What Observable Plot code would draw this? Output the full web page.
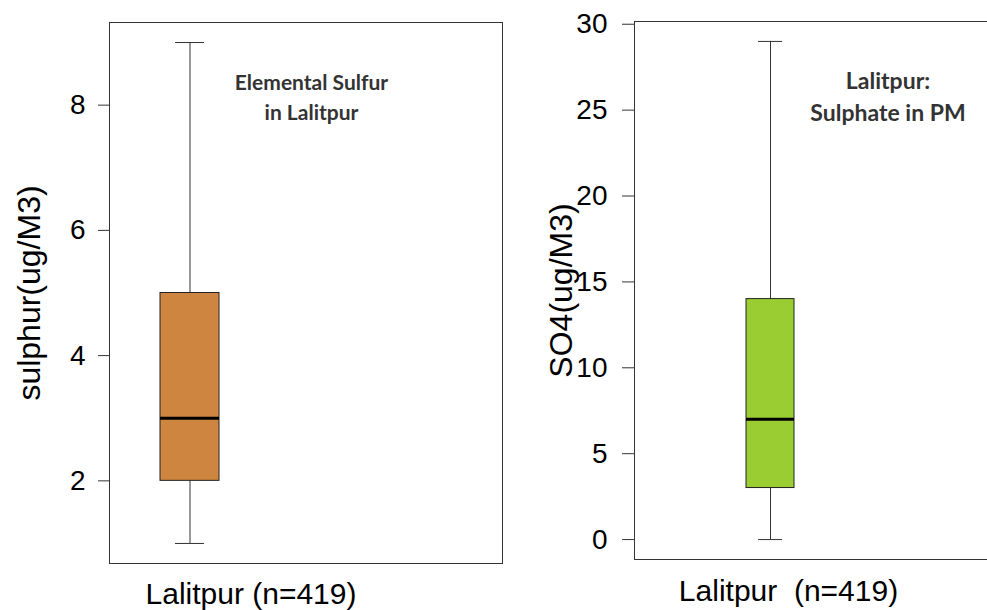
<!DOCTYPE html>
<html><head><meta charset="utf-8">
<script src="https://cdn.jsdelivr.net/npm/d3@7"></script>
<script src="https://cdn.jsdelivr.net/npm/@observablehq/plot@0.6"></script>
<style>
html,body{margin:0;padding:0;background:#fff;}
#chart{position:relative;width:987px;height:610px;overflow:hidden;background:#fff;}
#chart svg{position:absolute;top:0;}
</style></head><body><div id="chart"></div>
<script>
// Category labels (x axis of each panel)
const groups = ["Lalitpur (n=419)", "Lalitpur\u00a0 (n=419)"];
// Box-plot statistics: min, q1, median, q3, max
const statNames = ["min", "q1", "median", "q3", "max"];
const sulphurStats = [1, 2, 3, 5, 9];
const so4Stats = [0, 3, 7, 14, 29];
// Tick values
const sulphurTicks = [2, 4, 6, 8];
const so4Ticks = [0, 5, 10, 15, 20, 25, 30];
// Axis labels and in-panel titles
const yLabels = ["sulphur(ug/M3)", "SO4(ug/M3)"];
const titles = ["Elemental Sulfur\nin Lalitpur", "Lalitpur:\nSulphate in PM"];
const fills = ["#CD853F", "#9ACD32"];

function boxPanel(o) {
  const row = Object.fromEntries(statNames.map((k, i) => [k, o.stats[i]]));
  row.group = o.group;
  const data = [row];
  const lo = row.min, hi = row.max;
  const pad = (hi - lo) * 0.04;
  const svg = Plot.plot({
    width: o.width, height: 610,
    marginLeft: o.marginLeft, marginRight: o.marginRight,
    marginTop: o.marginTop, marginBottom: o.marginBottom,
    style: {fontFamily: "'Liberation Sans', Arial, sans-serif", color: "#000", background: "transparent", overflow: "visible"},
    x: {type: "band", domain: [o.group], paddingInner: 0, paddingOuter: o.paddingOuter, align: o.align, axis: null},
    y: {domain: [lo - pad, hi + pad]},
    marks: [
      Plot.frame({stroke: "#333"}),
      Plot.axisY({ticks: o.ticks, tickSize: o.tickSize, tickPadding: o.tickPadding, fontSize: 28, stroke: "#333", fill: "#000", label: null}),
      Plot.ruleX(data, {x: "group", y1: "min", y2: "max", stroke: "#333"}),
      Plot.tickY(data, {x: "group", y: "min", stroke: "#333", inset: o.capInset}),
      Plot.tickY(data, {x: "group", y: "max", stroke: "#333", inset: o.capInset}),
      Plot.barY(data, {x: "group", y1: "q1", y2: "q3", fill: o.fill, stroke: "#222"}),
      Plot.tickY(data, {x: "group", y: "median", stroke: "#000", strokeWidth: 3}),
      Plot.text([o.yLabel], {text: d => d, frameAnchor: "left", textAnchor: "middle", lineAnchor: "middle", rotate: -90, dx: o.yLabelDx, fontSize: 32, fill: "#000"}),
      Plot.text([o.group], {text: d => d, frameAnchor: "bottom-left", textAnchor: "middle", lineAnchor: "middle", dx: o.xLabelDx, dy: o.xLabelDy, fontSize: 30, fill: "#000"}),
      Plot.text([o.title], {text: d => d, frameAnchor: "top-left", textAnchor: "middle", lineAnchor: "top", dx: o.titleDx, dy: o.titleDy, fontSize: o.titleSize, fontWeight: "bold", fontFamily: "Lato, 'Open Sans', sans-serif", fill: "#333", lineHeight: o.titleLineHeight})
    ]
  });
  svg.style.left = o.left + "px";
  return svg;
}

const chart = document.getElementById("chart");
chart.appendChild(boxPanel({
  group: groups[0], stats: sulphurStats, ticks: sulphurTicks, yLabel: yLabels[0], title: titles[0], fill: fills[0],
  left: 0, width: 540, marginLeft: 109, marginRight: 38, marginTop: 22, marginBottom: 47,
  paddingOuter: 2.83, align: 0.1527, capInset: 15, tickSize: 11, tickPadding: 13,
  yLabelDx: -80, xLabelDx: 141.5, xLabelDy: 30.4, titleDx: 202, titleDy: 46.4, titleSize: 21, titleLineHeight: 1.43
}));
chart.appendChild(boxPanel({
  group: groups[1], stats: so4Stats, ticks: so4Ticks, yLabel: yLabels[1], title: titles[1], fill: fills[1],
  left: 540, width: 480, marginLeft: 94, marginRight: 6, marginTop: 21, marginBottom: 51,
  paddingOuter: 3.378, align: 0.3384, capInset: 12, tickSize: 12, tickPadding: 15,
  yLabelDx: -73, xLabelDx: 154, xLabelDy: 31.4, titleDx: 253.5, titleDy: 44.7, titleSize: 23, titleLineHeight: 1.4
}));
</script></body></html>
